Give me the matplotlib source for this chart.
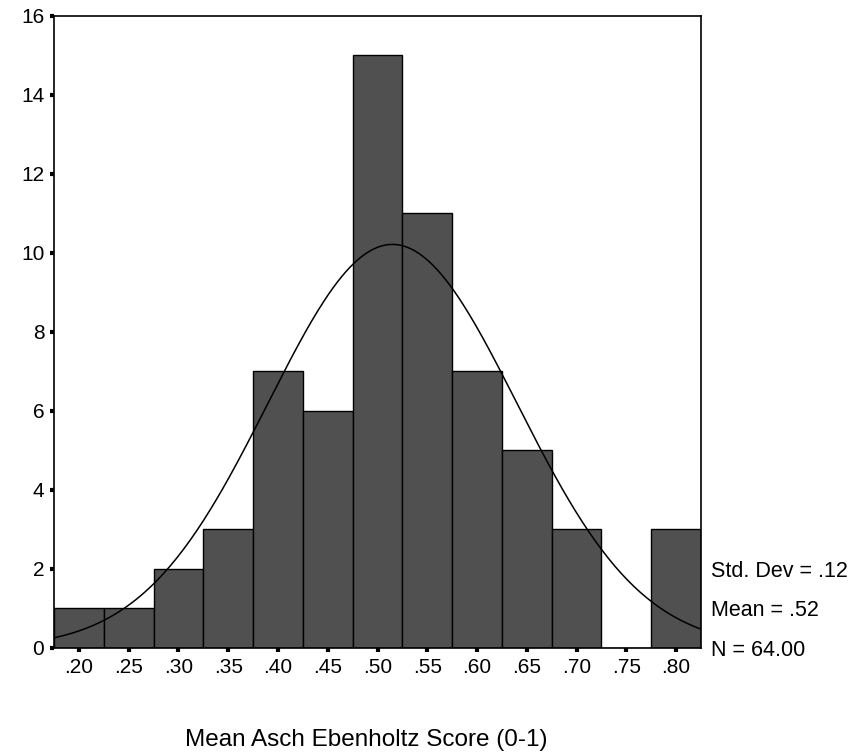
import numpy as np
import matplotlib
matplotlib.use("Agg")
import matplotlib.pyplot as plt

# histogram of mean Asch Ebenholtz scores
bin_centers = [0.20, 0.25, 0.30, 0.35, 0.40, 0.45, 0.50, 0.55, 0.60, 0.65, 0.70, 0.75, 0.80]
counts = [1, 1, 2, 3, 7, 6, 15, 11, 7, 5, 3, 0, 3]
tick_labels = [".20", ".25", ".30", ".35", ".40", ".45", ".50", ".55", ".60", ".65", ".70", ".75", ".80"]
bin_width = 0.05

mean_val = 0.515
sd_val = 0.125   # curve as drawn (label rounds to .12)
n_val = 64
stats_text = ["Std. Dev = .12", "Mean = .52", "N = 64.00"]

plt.rcParams["font.family"] = ["Liberation Sans", "DejaVu Sans"]

fig = plt.figure(figsize=(8.57, 7.55), dpi=100)
ax = fig.add_axes([0.063, 0.142, 0.755, 0.837])

ax.bar(bin_centers, counts, width=bin_width, color="#505050",
       edgecolor="black", linewidth=1.0, zorder=2)

xs = np.linspace(0.175, 0.825, 300)
ys = n_val * bin_width * np.exp(-0.5 * ((xs - mean_val) / sd_val) ** 2) / (sd_val * np.sqrt(2 * np.pi))
ax.plot(xs, ys, color="black", linewidth=1.1, zorder=3)

ax.set_xlim(0.175, 0.825)
ax.set_ylim(0, 16)
ax.set_yticks(range(0, 17, 2))
ax.set_xticks(bin_centers)
ax.set_xticklabels(tick_labels)
ax.tick_params(axis="both", labelsize=15, direction="out", width=3, length=3, color="black")
ax.tick_params(axis="x", pad=4)
ax.tick_params(axis="y", pad=4)
for s in ax.spines.values():
    s.set_linewidth(1.2)

for i, t in enumerate(stats_text):
    ax.text(1.015, (2 - i) / 16 - 0.004, t, transform=ax.transAxes,
            fontsize=15.5, va="center", ha="left")

fig.text(0.427, 0.005, "Mean Asch Ebenholtz Score (0-1)", fontsize=17.5, ha="center", va="bottom")

plt.savefig("out.png", dpi=100)
